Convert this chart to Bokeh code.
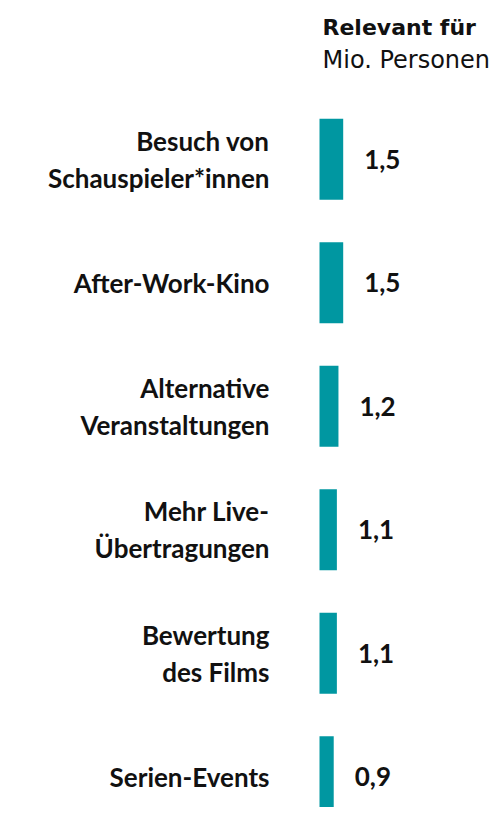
from bokeh.plotting import figure
from bokeh.models import ColumnDataSource, Range1d, Label
from bokeh.core.properties import value
from bokeh.embed import file_html
from bokeh.resources import INLINE

categories = ["Besuch von\nSchauspieler*innen", "After-Work-Kino",
              "Alternative\nVeranstaltungen", "Mehr Live-\nÜbertragungen",
              "Bewertung\ndes Films", "Serien-Events"]
values = [1.5, 1.5, 1.2, 1.1, 1.1, 0.9]
value_labels = ["1,5", "1,5", "1,2", "1,1", "1,1", "0,9"]
positions = [0, 1, 2, 3, 4, 5]
header_bold = "Relevant für"
header_unit = "Mio. Personen"

W, H = 490, 807
x0_px = 319.0      # pixel of value 0
px_per_unit = 15.8
pitch = 123.5
first_center = 158.7

src = ColumnDataSource(dict(y=positions, v=values, cat=categories, lab=value_labels))

p = figure(width=W, height=H, output_backend="svg", toolbar_location=None,
           x_range=Range1d(-x0_px / px_per_unit, (W - x0_px) / px_per_unit),
           y_range=Range1d((H - first_center) / pitch, -first_center / pitch),
           min_border=0, min_border_left=0, min_border_right=0,
           min_border_top=0, min_border_bottom=0)
p.axis.visible = False
p.grid.visible = False
p.outline_line_color = None
p.background_fill_color = "white"

p.hbar(y="y", left=0, right="v", height=0.656, source=src,
       fill_color="#0097A1", line_color=None)

p.text(x=0, y="y", text="cat", source=src, x_offset=-50,
       text_align="right", text_baseline="middle",
       text_font=value("Lato"), text_font_style="bold",
       text_font_size="26px", text_line_height=1.15, text_color="#111111")

p.text(x="v", y="y", text="lab", source=src, x_offset=21,
       text_align="left", text_baseline="middle",
       text_font=value("Lato"), text_font_style="bold",
       text_font_size="26px", text_color="#111111")

p.add_layout(Label(x=0, y=0, x_offset=3, y_offset=131.6,
                   text=header_bold, text_font="DejaVu Sans", text_font_style="bold",
                   text_font_size="22px", text_baseline="alphabetic", text_color="#111111"))
p.add_layout(Label(x=0, y=0, x_offset=3, y_offset=99.6,
                   text=header_unit, text_font="DejaVu Sans",
                   text_font_size="24px", text_baseline="alphabetic", text_color="#111111"))

open("out.html", "w").write(file_html(p, INLINE))
